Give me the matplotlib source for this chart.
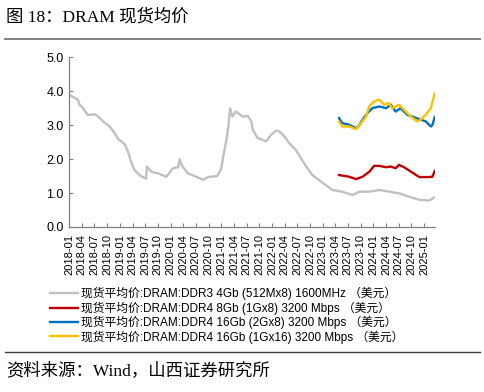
import pandas as pd
import matplotlib.pyplot as plt
import matplotlib.dates as mdates
from matplotlib.lines import Line2D

# DDR3 4Gb spot price (grey)
ddr3_dates = ["2018-01-01", "2018-02-10", "2018-03-04", "2018-03-15", "2018-04-10", "2018-05-04",
              "2018-05-15", "2018-07-04", "2018-07-28", "2018-09-01", "2018-10-18", "2018-11-24",
              "2018-12-18", "2019-01-12", "2019-02-06", "2019-02-28", "2019-03-21", "2019-04-15",
              "2019-05-21", "2019-06-28", "2019-07-08", "2019-07-15", "2019-08-15", "2019-10-01",
              "2019-12-01", "2020-01-18", "2020-02-24", "2020-03-06", "2020-03-24", "2020-05-03",
              "2020-07-03", "2020-08-20", "2020-09-15", "2020-10-12", "2020-11-12", "2020-12-01",
              "2020-12-20", "2021-01-01", "2021-01-12", "2021-02-06", "2021-02-18", "2021-02-24",
              "2021-03-04", "2021-03-20", "2021-04-15", "2021-05-01", "2021-06-04", "2021-07-10",
              "2021-08-04", "2021-08-15", "2021-09-18", "2021-10-24", "2021-11-18", "2021-12-24",
              "2022-02-01", "2022-02-24", "2022-04-01", "2022-05-04", "2022-06-21", "2022-07-27",
              "2022-09-04", "2022-10-18", "2022-12-18", "2023-02-06", "2023-03-12", "2023-05-21",
              "2023-08-04", "2023-09-21", "2023-12-01", "2024-02-12", "2024-04-24", "2024-07-04",
              "2024-09-15", "2024-11-27", "2025-02-06", "2025-03-18"]
ddr3_vals = [3.89, 3.80, 3.75, 3.60, 3.50, 3.35,
             3.30, 3.32, 3.25, 3.11, 2.96, 2.76,
             2.59, 2.52, 2.42, 2.22, 1.93, 1.68,
             1.53, 1.44, 1.42, 1.78, 1.63, 1.58,
             1.48, 1.73, 1.76, 2.00, 1.80, 1.58,
             1.48, 1.39, 1.45, 1.48, 1.49, 1.50,
             1.63, 1.75, 2.03, 2.57, 2.91, 3.16,
             3.50, 3.25, 3.40, 3.35, 3.25, 3.27,
             3.11, 2.86, 2.62, 2.57, 2.52, 2.71,
             2.84, 2.81, 2.66, 2.47, 2.27, 2.03,
             1.78, 1.53, 1.34, 1.19, 1.09, 1.04,
             0.94, 1.04, 1.04, 1.09, 1.04, 0.99,
             0.89, 0.80, 0.78, 0.88]

# DDR4 series start in 2023-04
ddr4_8g_dates = ["2023-04-28", "2023-07-10", "2023-08-28", "2023-10-15", "2023-12-03", "2024-01-06",
                 "2024-02-12", "2024-04-01", "2024-05-06", "2024-06-09", "2024-07-03", "2024-08-09",
                 "2024-09-15", "2024-11-27", "2025-02-06", "2025-03-01", "2025-03-18"]
ddr4_8g_vals = [1.53, 1.48, 1.41, 1.48, 1.63, 1.80,
                1.80, 1.76, 1.78, 1.73, 1.83, 1.76,
                1.66, 1.47, 1.47, 1.48, 1.65]

ddr4_2gx8_dates = ["2023-04-28", "2023-05-21", "2023-07-10", "2023-08-28", "2023-09-15", "2023-10-15",
                   "2023-11-18", "2023-12-24", "2024-02-12", "2024-04-01", "2024-05-06", "2024-06-09",
                   "2024-07-15", "2024-09-03", "2024-11-03", "2025-01-12", "2025-02-18", "2025-03-01",
                   "2025-03-18"]
ddr4_2gx8_vals = [3.21, 3.06, 3.01, 2.91, 2.96, 3.16,
                  3.35, 3.50, 3.55, 3.50, 3.60, 3.40,
                  3.50, 3.30, 3.21, 3.11, 2.96, 3.00,
                  3.24]

ddr4_1gx16_dates = ["2023-04-28", "2023-05-21", "2023-07-10", "2023-08-28", "2023-09-15", "2023-11-09",
                    "2023-12-01", "2024-01-06", "2024-02-12", "2024-03-18", "2024-04-21", "2024-05-15",
                    "2024-07-03", "2024-08-09", "2024-09-27", "2024-11-12", "2024-12-06", "2025-01-12",
                    "2025-02-18", "2025-03-18"]
ddr4_1gx16_vals = [3.11, 2.96, 2.96, 2.88, 2.96, 3.25,
                   3.55, 3.70, 3.75, 3.60, 3.65, 3.50,
                   3.60, 3.45, 3.25, 3.11, 3.16, 3.30,
                   3.50, 3.94]

labels = ["现货平均价:DRAM:DDR3 4Gb (512Mx8) 1600MHz （美元）",
          "现货平均价:DRAM:DDR4 8Gb (1Gx8) 3200 Mbps （美元）",
          "现货平均价:DRAM:DDR4 16Gb (2Gx8) 3200 Mbps （美元）",
          "现货平均价:DRAM:DDR4 16Gb (1Gx16) 3200 Mbps （美元）"]
colors = ["#C0C0C0", "#C00000", "#0070C0", "#FFC000"]

sans = ['Liberation Sans', 'Noto Sans CJK SC']
serif = ['Liberation Serif', 'Noto Sans CJK SC']
plt.rcParams['font.family'] = sans

fig = plt.figure(figsize=(4.85, 3.92), dpi=100)
ax = fig.add_axes([0.143, 0.421, 0.754, 0.433])

series = [(ddr3_dates, ddr3_vals), (ddr4_8g_dates, ddr4_8g_vals),
          (ddr4_2gx8_dates, ddr4_2gx8_vals), (ddr4_1gx16_dates, ddr4_1gx16_vals)]
for (d, v), c in zip(series, colors):
    ax.plot(pd.to_datetime(d), v, color=c, lw=1.7)

ax.set_ylim(0, 5)
ax.set_yticks([0, 1, 2, 3, 4, 5])
ax.set_yticklabels([f"{t:.1f}" for t in range(6)], fontsize=9)
ax.set_xlim(pd.Timestamp("2018-01-01"), pd.Timestamp("2025-03-20"))
ax.xaxis.set_major_locator(mdates.MonthLocator(bymonth=[1, 4, 7, 10]))
ax.xaxis.set_major_formatter(mdates.DateFormatter("%Y-%m"))
plt.setp(ax.get_xticklabels(), rotation=90, fontsize=8)
ax.tick_params(direction='in', length=3, color='#808080', width=0.8)
ax.tick_params(axis='x', pad=5)
ax.tick_params(axis='y', pad=4)
for s in ['top', 'right']:
    ax.spines[s].set_visible(False)
for s in ['left', 'bottom']:
    ax.spines[s].set_color('#808080')
    ax.spines[s].set_linewidth(0.9)

handles = [Line2D([], [], color=c, lw=1.7) for c in colors]
fig.legend(handles, labels, loc='upper left', bbox_to_anchor=(0.103, 0.268),
           frameon=False, fontsize=8.5, handlelength=2.4, handletextpad=0.2,
           labelspacing=0.1, borderpad=0, borderaxespad=0)

fig.text(0.012, 0.955, "图 18：DRAM 现货均价", fontsize=12.5, family=serif, va='center')
fig.add_artist(Line2D([0.01, 0.99], [0.9, 0.9], color='#808080', lw=1.4))
fig.add_artist(Line2D([0.01, 0.99], [0.102, 0.102], color='#404040', lw=1.0))
fig.text(0.012, 0.055, "资料来源：Wind，山西证券研究所", fontsize=12.5, family=serif, va='center')

fig.savefig("out.png", dpi=100)
